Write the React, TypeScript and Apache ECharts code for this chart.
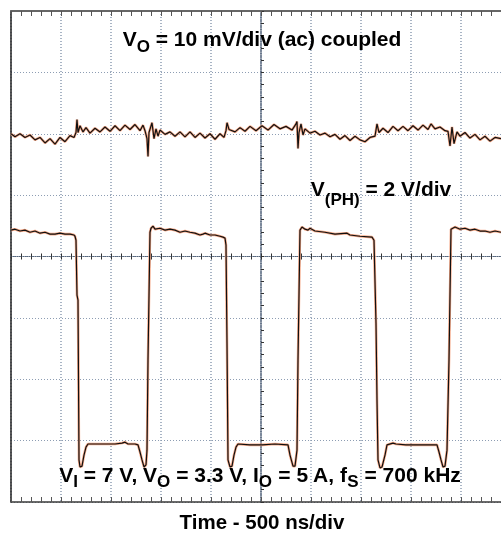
import React, { useEffect, useRef } from 'react';
import * as echarts from 'echarts';

// Time axis: 10 divisions x 500 ns/div
const timeMinNs = 0;
const timeMaxNs = 5000;
const timeDivNs = 500;

// V_O ripple trace (ac coupled), 10 mV/div
const rippleTimeNs = [
  0, 40, 90, 140, 190, 240, 290, 340, 390, 440, 490, 540, 590, 630, 650, 660, 670, 690, 720, 750,
  790, 840, 890, 940, 990, 1040, 1090, 1140, 1190, 1240, 1290, 1320, 1340, 1360, 1370, 1380, 1410, 1430, 1450, 1470,
  1490, 1540, 1590, 1640, 1690, 1740, 1790, 1840, 1890, 1940, 1990, 2040, 2090, 2130, 2150, 2160, 2180, 2240, 2290, 2340,
  2390, 2450, 2510, 2570, 2630, 2690, 2750, 2810, 2850, 2860, 2870, 2880, 2900, 2920, 2940, 2990, 3040, 3090, 3140, 3190,
  3240, 3290, 3340, 3390, 3440, 3490, 3540, 3590, 3640, 3660, 3680, 3720, 3770, 3820, 3870, 3920, 3970, 4020, 4070, 4120,
  4170, 4200, 4240, 4290, 4340, 4370, 4390, 4410, 4430, 4460, 4490, 4540, 4590, 4640, 4690, 4740, 4790, 4840, 4900,
];
const rippleMv = [
  0, -0.5, 0, -0.6, -0.2, -1.0, -0.6, -1.5, -0.8, -1.7, -0.6, -1.3, -0.3, -0.6,
  0.2, 2.3,
  0.2, 1.3, 0.3, 1.0, 0.1, 0.9, 0.3, 1.1, 0.4, 1.3, 0.5, 1.4, 0.7, 1.5, 0.5, 1.4, 0.5,
  -0.8, -3.7, 0.2, 1.8, -0.8,
  0.8, -0.4, 0.6, -0.1, 0.3, -0.4, 0.3, -0.5, 0.3, -0.6, 0.1, -0.7, 0, -0.9, 0, -0.6,
  0.5, 1.8,
  0.7, 0.3, 1.0, 0.4, 1.2, 0.5, 1.3, 0.6, 1.5, 0.8, 1.2, 0.6,
  1.6, 2.0, -2.4, 0.2, 1.6,
  -0.2, 0.8, 0.1, 0.4, -0.2, 0.1, -0.5, -0.1, -0.9, -0.3, -1.1, -0.4, -1.0, -1.3, -0.6, -0.4,
  1.6,
  0.2, 0.9, 0.2, 1.2, 0.5, 1.2, 0.5, 1.3, 0.6, 1.4, 0.7, 1.6, 0.8, 1.1, 0.5, 0.4,
  -2.0, 1.1, -1.6,
  0.3, -0.4, 0.2, -0.7, -0.1, -1.0, -0.4, -1.2, -0.6, -0.8,
];

// V_(PH) switch node trace, 2 V/div
const phTimeNs = [
  0, 40, 90, 140, 190, 240, 290, 340, 390, 440, 490, 540, 590, 630, 640, 650, 660, 670, 680, 690,
  710, 730, 750, 770, 840, 940, 1040, 1110, 1140, 1170, 1240, 1270, 1290, 1310, 1330, 1350, 1360, 1370, 1390, 1400,
  1420, 1440, 1490, 1540, 1590, 1640, 1690, 1740, 1790, 1840, 1890, 1920, 1940, 1990, 2040, 2090, 2120, 2140, 2150, 2160,
  2170, 2190, 2210, 2230, 2250, 2270, 2390, 2510, 2640, 2770, 2790, 2820, 2840, 2860, 2870, 2890, 2910, 2940, 2970, 2990,
  3040, 3140, 3240, 3360, 3390, 3490, 3610, 3630, 3650, 3660, 3670, 3690, 3710, 3740, 3760, 3820, 3850, 3950, 4100, 4260,
  4280, 4300, 4320, 4340, 4360, 4380, 4400, 4440, 4490, 4540, 4590, 4640, 4690, 4740, 4790, 4840, 4900,
];
const phVolts = [
  6.86, 6.89, 6.83, 6.86, 6.79, 6.83, 6.76, 6.79, 6.73, 6.73, 6.76, 6.73, 6.73, 6.70, 6.66, 6.53, 4.74, 4.58, -0.63, -0.86,
  -0.83, -0.47, -0.21, -0.11, -0.11, -0.11, -0.11, -0.08, -0.05, -0.11, -0.11, -0.14, -0.37, -0.63, -0.86, -0.79, -0.31, 2.62, 6.79, 6.92,
  6.99, 6.89, 6.92, 6.86, 6.89, 6.86, 6.79, 6.83, 6.79, 6.76, 6.70, 6.73, 6.76, 6.70, 6.70, 6.66, 6.63, 6.60, 6.37, 3.18,
  -0.63, -0.86, -0.83, -0.47, -0.21, -0.11, -0.14, -0.14, -0.11, -0.14, -0.47, -0.83, -0.83, -0.31, 2.62, 6.86, 6.96, 6.89, 6.86, 6.92,
  6.83, 6.79, 6.73, 6.76, 6.70, 6.66, 6.63, 6.53, 3.83, 1.32, -0.63, -0.89, -0.86, -0.47, -0.14, -0.08, -0.11, -0.14, -0.14, -0.14,
  -0.37, -0.63, -0.86, -0.83, -0.31, 2.62, 6.89, 6.96, 6.89, 6.92, 6.86, 6.89, 6.83, 6.83, 6.79, 6.83, 6.79,
];

// Vertical scales (8 divisions each)
const rippleAxis = { min: -60, max: 20, interval: 10 };
const phAxis = { min: -2, max: 14, interval: 2 };
// Graticule centred scales (divisions from screen centre)
const centerX = { min: -2500, max: 2500, interval: 500 };
const centerY = { min: -4, max: 4, interval: 1 };

const titleTop = '{m|V}{s|O}{m| = 10 mV/div (ac) coupled}';
const titlePh = '{m|V}{s|(PH)}{m| = 2 V/div}';
const titleCond = '{m|V}{s|I}{m| = 7 V, V}{s|O}{m| = 3.3 V, I}{s|O}{m| = 5 A, f}{s|S}{m| = 700 kHz}';
const xTitle = 'Time - 500 ns/div';

const FONT = '"Liberation Sans", Arial, Helvetica, sans-serif';

export default function App() {
  const ref = useRef<HTMLDivElement>(null);
  useEffect(() => {
    if (!ref.current) return;
    const chart = echarts.init(ref.current, undefined, { renderer: 'svg' });

    const ripple = rippleTimeNs.map((t, i) => [t, rippleMv[i]]);
    const ph = phTimeNs.map((t, i) => [t, phVolts[i]]);

    const noLabel = { show: false };
    const borderTick = () => ({ show: true, inside: true, length: 5, lineStyle: { color: '#555', width: 1 } });
    const borderMinor = () => ({ show: true, splitNumber: 5, length: 5, lineStyle: { color: '#555', width: 1 } });
    const centerTick = () => ({ show: true, inside: true, length: 3, lineStyle: { color: '#333', width: 1 } });
    const centerMinor = () => ({ show: true, splitNumber: 5, length: 3, lineStyle: { color: '#333', width: 1 } });

    const richFor = (lh: number) => ({
      m: { fontSize: 21, fontWeight: 'bold', fontFamily: FONT, fill: '#000', lineHeight: lh },
      s: { fontSize: 17, fontWeight: 'bold', fontFamily: FONT, fill: '#000', lineHeight: 17, verticalAlign: 'bottom' },
    });

    chart.setOption({
      animation: false,
      grid: { left: 11, top: 11, width: 500, height: 491, outerBoundsMode: 'none' },
      xAxis: [
        { type: 'value', min: timeMinNs, max: timeMaxNs, interval: timeDivNs, position: 'bottom', axisLabel: noLabel,
          axisLine: { show: true, onZero: false, lineStyle: { color: '#3a3a3a', width: 1.5 } },
          axisTick: borderTick(), minorTick: borderMinor(),
          splitLine: { show: true, lineStyle: { color: '#8d9db3', type: [1, 2], width: 1.5 } } },
        { type: 'value', ...centerX, position: 'bottom', axisLabel: noLabel,
          axisLine: { show: true, onZero: true, onZeroAxisIndex: 1, lineStyle: { color: '#56667c', type: [1, 1], width: 1 } },
          axisTick: centerTick(), minorTick: centerMinor(), splitLine: { show: false } },
        { type: 'value', min: timeMinNs, max: timeMaxNs, interval: timeDivNs, position: 'top', axisLabel: noLabel,
          axisLine: { show: true, onZero: false, lineStyle: { color: '#666', width: 2 } },
          axisTick: borderTick(), minorTick: borderMinor(), splitLine: { show: false } },
        { type: 'value', ...centerX, position: 'top', axisLabel: noLabel,
          axisLine: { show: false, onZero: true, onZeroAxisIndex: 1 },
          axisTick: centerTick(), minorTick: centerMinor(), splitLine: { show: false } },
      ],
      yAxis: [
        { type: 'value', ...rippleAxis, position: 'left', axisLabel: noLabel,
          axisLine: { show: true, onZero: false, lineStyle: { color: '#222', width: 1.5 } },
          axisTick: { show: false }, splitLine: { show: true, lineStyle: { color: '#8d9db3', type: [1, 2], width: 1 } } },
        { type: 'value', ...centerY, position: 'left', axisLabel: noLabel,
          axisLine: { show: true, onZero: true, onZeroAxisIndex: 1, lineStyle: { color: '#56667c', type: [1, 1], width: 1.5 } },
          axisTick: centerTick(), minorTick: centerMinor(), splitLine: { show: false } },
        { type: 'value', ...phAxis, position: 'right', axisLabel: noLabel,
          axisLine: { show: false, onZero: false }, axisTick: { show: false }, splitLine: { show: false } },
      ],
      series: [
        { type: 'line', data: ripple, xAxisIndex: 0, yAxisIndex: 0, symbol: 'none', silent: true, z: 2,
          lineStyle: { color: '#f5a887', width: 2.6 } },
        { type: 'line', data: ripple, xAxisIndex: 0, yAxisIndex: 0, symbol: 'none', silent: true, z: 3,
          lineStyle: { color: '#111', width: 1.2 } },
        { type: 'line', data: ph, xAxisIndex: 0, yAxisIndex: 2, symbol: 'none', silent: true, z: 2,
          lineStyle: { color: '#f5a887', width: 2.6 } },
        { type: 'line', data: ph, xAxisIndex: 0, yAxisIndex: 2, symbol: 'none', silent: true, z: 3,
          lineStyle: { color: '#111', width: 1.2 } },
      ],
      graphic: [
        { type: 'text', x: 262, y: 38, z: 100,
          style: { text: titleTop, align: 'center', verticalAlign: 'middle', rich: richFor(34) } },
        { type: 'text', x: 381, y: 188.5, z: 100,
          style: { text: titlePh, align: 'center', verticalAlign: 'middle', rich: richFor(38) } },
        { type: 'text', x: 260, y: 474.5, z: 100,
          style: { text: titleCond, align: 'center', verticalAlign: 'middle', rich: richFor(30) } },
        { type: 'text', x: 262, y: 521, z: 100,
          style: { text: xTitle, align: 'center', verticalAlign: 'middle', fill: '#000',
            font: 'bold 20.5px ' + FONT } },
      ],
    });
    return () => chart.dispose();
  }, []);
  return <div ref={ref} style={{ position: 'fixed', left: 0, top: 0, width: 501, height: 533 }} />;
}
